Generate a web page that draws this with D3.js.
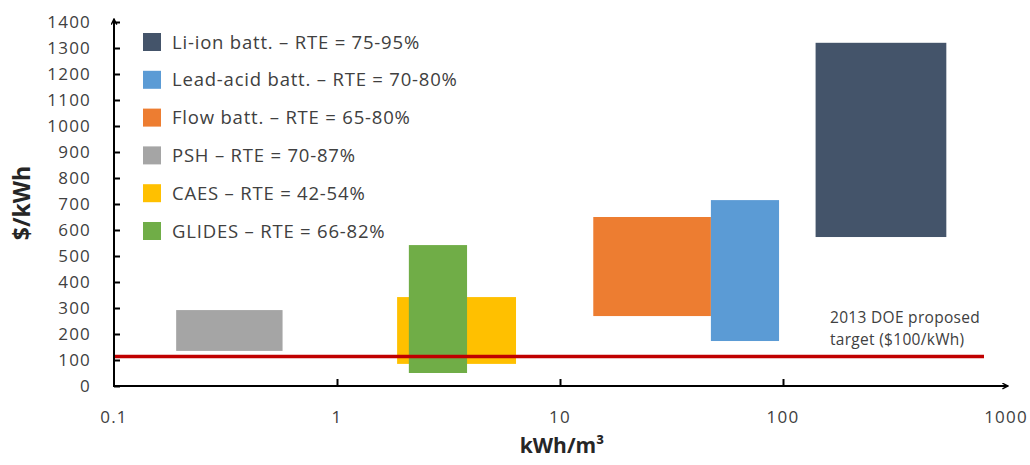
<!DOCTYPE html>
<html>
  <head>
    <meta charset="utf-8">
    <style>
      body { margin: 0; background: #fff; }
      text { font-family: "Open Sans", sans-serif; fill: #404040; }
    </style>
  </head>
  <body>
    <svg width="1030" height="465"></svg>
    <script src="https://d3js.org/d3.v7.min.js"></script>
    <script>
      // data: energy density range (kWh/m3) and cost range ($/kWh)
      var technologies = ["Li-ion batt.", "Lead-acid batt.", "Flow batt.", "PSH", "CAES", "GLIDES"];
      var rteLabels    = ["75-95%", "70-80%", "65-80%", "70-87%", "42-54%", "66-82%"];
      var colors       = ["#44546a", "#5b9bd5", "#ed7d31", "#a5a5a5", "#ffc000", "#70ad47"];
      var densityMin   = [140, 47.5, 14.1, 0.19, 1.86, 2.1];
      var densityMax   = [540, 96, 47.5, 0.57, 6.35, 3.83];
      var costMin      = [573, 173, 269, 135, 85, 50];
      var costMax      = [1320, 715, 650, 292, 342, 542];
      var drawOrder    = [3, 4, 5, 2, 1, 0];
      var xTicks       = [0.1, 1, 10, 100, 1000];
      var yTicks       = d3.range(0, 1401, 100);
      var doeTarget    = 113;

      var svg = d3.select("svg");

      var x = d3.scaleLog().domain([0.1, 1000]).range([114, 1006]);
      var y = d3.scaleLinear().domain([0, 1400]).range([386, 22]);

      // boxes
      svg.append("g").selectAll("rect")
        .data(drawOrder)
        .enter().append("rect")
          .attr("x", function(i) { return x(densityMin[i]); })
          .attr("y", function(i) { return y(costMax[i]); })
          .attr("width", function(i) { return x(densityMax[i]) - x(densityMin[i]); })
          .attr("height", function(i) { return y(costMin[i]) - y(costMax[i]); })
          .attr("fill", function(i) { return colors[i]; });

      // DOE target line
      svg.append("line")
        .attr("x1", x(0.1)).attr("x2", 984)
        .attr("y1", y(doeTarget)).attr("y2", y(doeTarget))
        .attr("stroke", "#c00000")
        .attr("stroke-width", 3.5);

      svg.append("text")
        .attr("x", 830).attr("y", 323)
        .style("font-size", "15.5px")
        .style("letter-spacing", "0.3px")
        .text("2013 DOE proposed");
      svg.append("text")
        .attr("x", 830).attr("y", 345)
        .style("font-size", "15.5px")
        .style("letter-spacing", "0.3px")
        .text("target ($100/kWh)");

      // axes
      var defs = svg.append("defs");
      defs.append("marker")
        .attr("id", "arrow")
        .attr("viewBox", "0 0 10 10")
        .attr("refX", 9).attr("refY", 5)
        .attr("markerWidth", 7).attr("markerHeight", 7)
        .attr("markerUnits", "userSpaceOnUse")
        .attr("orient", "auto")
        .append("path")
          .attr("d", "M1,1 L9,5 L1,9")
          .attr("fill", "none")
          .attr("stroke", "#000")
          .attr("stroke-width", 2);

      var yAxis = svg.append("g")
        .attr("transform", "translate(" + x(0.1) + ",0)")
        .call(d3.axisRight(y).tickValues(yTicks).tickSize(6).tickFormat(""));
      yAxis.select(".domain").remove();
      yAxis.selectAll("line").attr("stroke", "#000").attr("stroke-width", 2);

      var xAxis = svg.append("g")
        .attr("transform", "translate(0," + y(0) + ")")
        .call(d3.axisTop(x).tickValues(xTicks.slice(1, 4)).tickSize(7).tickFormat(""));
      xAxis.select(".domain").remove();
      xAxis.selectAll("line").attr("stroke", "#000").attr("stroke-width", 2);

      svg.append("line")
        .attr("x1", x(0.1)).attr("y1", y(0))
        .attr("x2", x(0.1)).attr("y2", y(1400) - 3)
        .attr("stroke", "#000").attr("stroke-width", 2)
        .attr("marker-end", "url(#arrow)");
      svg.append("line")
        .attr("x1", x(0.1) - 1).attr("y1", y(0))
        .attr("x2", x(1000) + 2).attr("y2", y(0))
        .attr("stroke", "#000").attr("stroke-width", 2)
        .attr("marker-end", "url(#arrow)");

      // tick labels
      svg.append("g").selectAll("text")
        .data(yTicks)
        .enter().append("text")
          .attr("x", 91)
          .attr("y", function(d) { return y(d); })
          .attr("dy", "0.36em")
          .attr("text-anchor", "end")
          .style("font-size", "17px")
          .style("letter-spacing", "1.2px")
          .text(function(d) { return d; });

      svg.append("g").selectAll("text")
        .data(xTicks)
        .enter().append("text")
          .attr("x", function(d) { return x(d); })
          .attr("y", 417)
          .attr("dy", "0.36em")
          .attr("text-anchor", "middle")
          .style("font-size", "17px")
          .style("letter-spacing", "1.2px")
          .text(function(d) { return d; });

      // axis titles
      svg.append("text")
        .attr("transform", "translate(30,203) rotate(-90)")
        .attr("text-anchor", "middle")
        .style("font-size", "23px")
        .style("font-weight", "bold")
        .style("fill", "#262626")
        .text("$/kWh");

      svg.append("text")
        .attr("x", 562).attr("y", 453)
        .attr("text-anchor", "middle")
        .style("font-size", "21px")
        .style("font-weight", "bold")
        .style("fill", "#262626")
        .text("kWh/m³");

      // legend
      var legend = svg.append("g").selectAll("g")
        .data(technologies)
        .enter().append("g")
          .attr("transform", function(d, i) { return "translate(143," + (42 + i * 37.8) + ")"; });
      legend.append("rect")
        .attr("x", 0).attr("y", -9)
        .attr("width", 18).attr("height", 18)
        .attr("fill", function(d, i) { return colors[i]; });
      legend.append("text")
        .attr("x", 29).attr("dy", "0.36em")
        .style("font-size", "18.5px")
        .style("letter-spacing", "0.8px")
        .text(function(d, i) { return d + " – RTE = " + rteLabels[i]; });
    </script>
  </body>
</html>
